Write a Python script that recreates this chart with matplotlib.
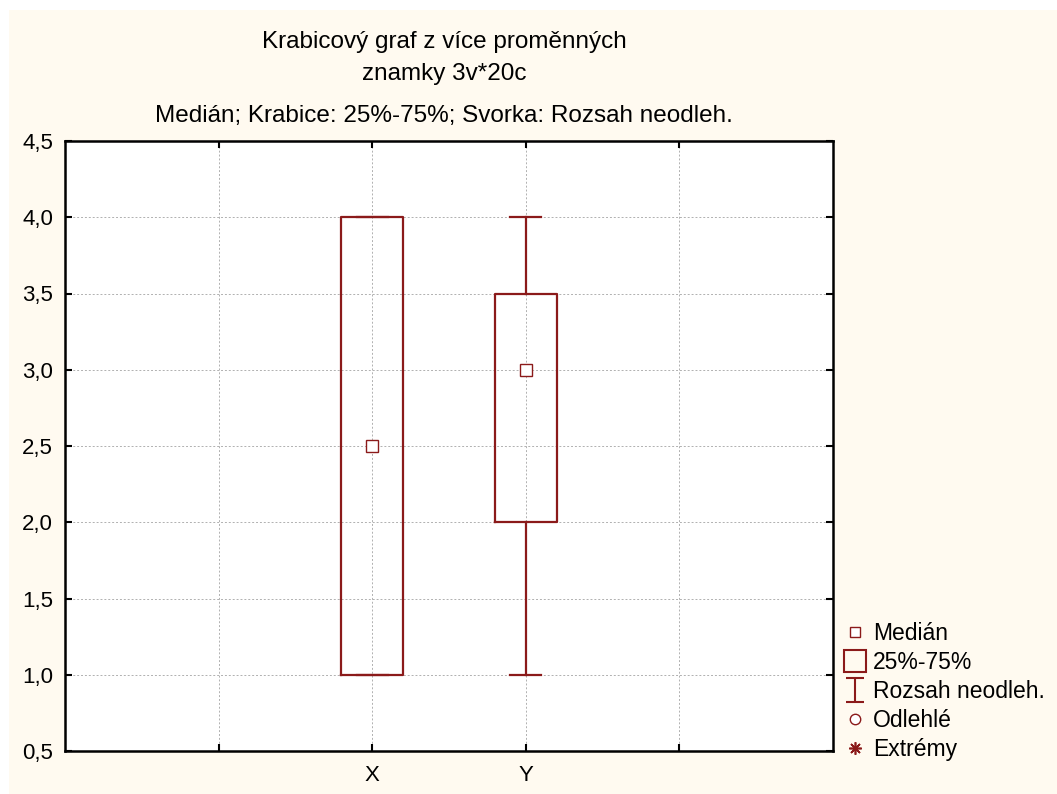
import numpy as np
import matplotlib
matplotlib.use("Agg")
import matplotlib.pyplot as plt
from matplotlib.patches import Rectangle
from matplotlib.path import Path
from matplotlib.lines import Line2D
from matplotlib.ticker import FuncFormatter, MultipleLocator

# data
variables = ["X", "Y"]
positions = [2, 3]
medians = [2.5, 3.0]
q1 = [1.0, 2.0]
q3 = [4.0, 3.5]
whis_lo = [1.0, 1.0]
whis_hi = [4.0, 4.0]

title_lines = ["Krabicový graf z více proměnných", "znamky 3v*20c",
               "Medián; Krabice: 25%-75%; Svorka: Rozsah neodleh."]
legend_labels = ["Medián", "25%-75%", "Rozsah neodleh.", "Odlehlé", "Extrémy"]

red = "#8b1a1a"
cream = "#fffaf0"

plt.rcParams["font.family"] = ["Liberation Sans", "DejaVu Sans"]

fig = plt.figure(figsize=(10.57, 7.94), dpi=100, facecolor="white")
# cream background panel, white border top/left
fig.patches.append(Rectangle((9 / 1057, 0), 1, 1 - 10 / 794, transform=fig.transFigure,
                             facecolor=cream, edgecolor="none", zorder=-10))

ax = fig.add_axes([65 / 1057, 1 - 751 / 794, 768 / 1057, 610 / 794])
ax.set_facecolor("white")

stats = []
for i, name in enumerate(variables):
    stats.append({"label": name, "med": medians[i], "mean": medians[i],
                  "q1": q1[i], "q3": q3[i],
                  "whislo": whis_lo[i], "whishi": whis_hi[i], "fliers": []})

ax.bxp(stats, positions=positions, widths=0.4, capwidths=0.2, showmeans=True,
       showfliers=False,
       boxprops=dict(color=red, linewidth=1.6),
       whiskerprops=dict(color=red, linewidth=1.6),
       capprops=dict(color=red, linewidth=1.6),
       medianprops=dict(visible=False),
       meanprops=dict(marker="s", markerfacecolor="white", markeredgecolor=red,
                      markersize=8, markeredgewidth=1.0),
       zorder=3)

ax.set_xlim(0, 5)
ax.set_ylim(0.5, 4.5)
ax.set_xticks([1, 2, 3, 4])
ax.set_xticklabels(["", "X", "Y", ""])
ax.yaxis.set_major_locator(MultipleLocator(0.5))
ax.yaxis.set_major_formatter(FuncFormatter(lambda v, p: f"{v:.1f}".replace(".", ",")))

ax.tick_params(direction="in", length=5, width=1.5, top=True, right=True,
               labelsize=16)
ax.tick_params(axis="y", pad=8.5)
ax.tick_params(axis="x", pad=10)
ax.grid(True, color="#b0b0b0", linestyle=(0, (2, 2)), linewidth=0.7, zorder=0)
ax.set_axisbelow(True)
for s in ax.spines.values():
    s.set_linewidth(1.8)
    s.set_color("black")

# titles
fig.text(444 / 1057, 1 - 42 / 794, title_lines[0], ha="center", va="center", fontsize=17.5)
fig.text(444 / 1057, 1 - 74 / 794, title_lines[1], ha="center", va="center", fontsize=17.5)
fig.text(444 / 1057, 1 - 116 / 794, title_lines[2], ha="center", va="center", fontsize=17.5)

# legend
ibeam = Path([(-0.8, 1), (0.8, 1), (0, 1), (0, -1), (-0.8, -1), (0.8, -1)],
             [Path.MOVETO, Path.LINETO, Path.MOVETO, Path.LINETO, Path.MOVETO, Path.LINETO])
handles = [
    Line2D([], [], linestyle="none", marker="s", markersize=7.5, markerfacecolor="white",
           markeredgecolor=red, markeredgewidth=1.0),
    Line2D([], [], linestyle="none", marker="s", markersize=16, markerfacecolor="none",
           markeredgecolor=red, markeredgewidth=1.5),
    Line2D([], [], linestyle="none", marker=ibeam, markersize=17, markerfacecolor="none",
           markeredgecolor=red, markeredgewidth=1.5),
    Line2D([], [], linestyle="none", marker="o", markersize=7.5, markerfacecolor="white",
           markeredgecolor=red, markeredgewidth=1.0),
    Line2D([], [], linestyle="none", marker=(8, 2, 0), markersize=9,
           markeredgecolor=red, markeredgewidth=1.2),
]
fig.legend(handles, legend_labels, loc="upper left", bbox_to_anchor=(841 / 1057, 1 - 622 / 794),
           frameon=False, fontsize=16.5, handlelength=1.2, handletextpad=0.2,
           labelspacing=0.26, borderaxespad=0, borderpad=0)

fig.savefig("out.png", dpi=100, facecolor="white")
